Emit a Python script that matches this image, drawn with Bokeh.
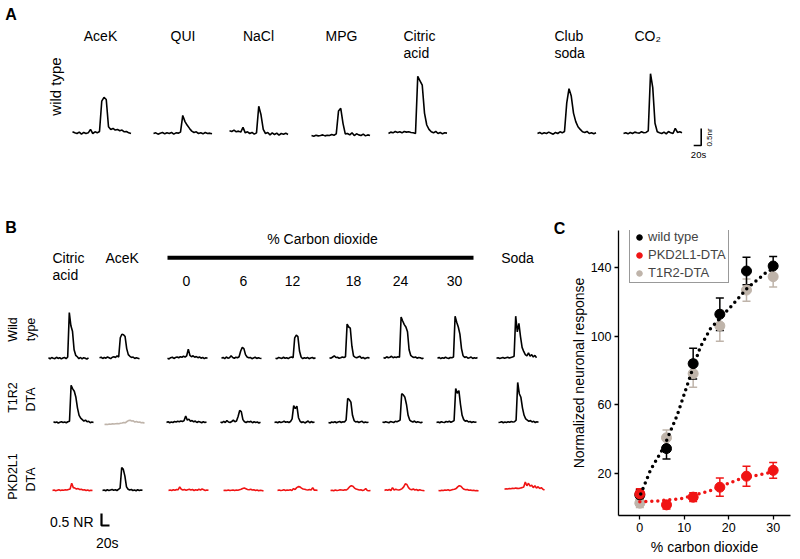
import math
from bokeh.plotting import figure
from bokeh.layouts import column, row
from bokeh.models import (Range1d, ColumnDataSource, Whisker, TeeHead, Legend,
                          LegendItem, FixedTicker)
from bokeh.embed import file_html
from bokeh.resources import INLINE
from bokeh.core.properties import value

FONT = "Liberation Sans"
RED = "#f01414"
GRAY = "#bfb4aa"

# ---------------- data: panel A (wild type, values in NR, time in s) ----------------
a_time = [0, 6, 12, 18, 24, 30, 36, 42, 48, 54, 60, 66, 72, 78, 84, 90, 96, 102,
          108, 114, 120, 126, 132, 138, 144, 150, 156]
a_labels = ["AceK", "QUI", "NaCl", "MPG", "Citric\nacid", "Club\nsoda", "CO\u2082"]
acek_a = [0.05, 0.02, 0.0, 0.04, -0.02, 0.03, 0.0, 0.02, 0.12, 0.0, 0.05, 0.02, 0.06,
          0.95, 1.06, 1.0, 0.2, 0.12, 0.15, 0.1, 0.12, 0.08, 0.1, 0.05, 0.06, 0.02, 0.0]
qui_a = [0.0, 0.02, -0.02, 0.01, 0.03, -0.01, 0.02, 0.0, 0.03, -0.02, 0.02, 0.01, 0.04,
         0.53, 0.35, 0.24, 0.15, 0.07, 0.03, 0.05, 0.0, 0.02, -0.01, 0.03, 0.0, 0.01, -0.01]
nacl_a = [0.08, 0.06, 0.1, 0.05, 0.07, 0.04, 0.18, 0.02, 0.05, 0.0, 0.03, -0.02, 0.02,
          0.8, 0.55, 0.12, 0.0, 0.03, -0.04, 0.02, -0.03, 0.01, -0.05, 0.0, -0.02, 0.01, -0.03]
mpg_a = [-0.06, -0.08, -0.05, -0.07, -0.06, -0.04, -0.07, -0.05, -0.06, -0.03, -0.05, -0.01,
         0.66, 0.74, 0.3, -0.01, 0.0, -0.04, 0.02, -0.06, -0.01, -0.04, -0.06, -0.02, -0.07, -0.04, -0.06]
citric_a = [0.0, 0.04, 0.02, 0.06, 0.03, 0.05, 0.02, 0.06, 0.04, 0.05, 0.03, 0.02, 0.0,
            1.68, 1.55, 1.42, 0.6, 0.25, 0.12, 0.05, 0.02, 0.06, 0.0, 0.03, -0.01, 0.02, 0.01]
soda_a = [0.0, 0.03, -0.01, 0.02, 0.0, 0.04, 0.01, -0.02, 0.03, 0.0, 0.05, 0.02, 0.06,
          0.9, 1.32, 1.1, 0.6, 0.35, 0.2, 0.12, 0.05, 0.03, 0.06, 0.0, 0.02, -0.01, 0.02]
co2_a = [0.0, 0.02, -0.01, 0.03, 0.0, 0.04, 0.02, 0.01, 0.05, 0.02, 0.03, 0.08, 1.76,
         1.35, 0.3, 0.05, 0.02, 0.0, 0.04, -0.01, 0.06, 0.02, 0.0, 0.15, 0.03, 0.05, 0.02]
a_traces = [acek_a, qui_a, nacl_a, mpg_a, citric_a, soda_a, co2_a]

# ---------------- data: panel B (values in NR, time in s) ----------------
b_time = [0, 4, 8, 12, 16, 20, 24, 28, 32, 36, 40, 44, 48, 52, 56, 60, 64, 68, 72, 76,
          80, 84, 88, 92, 96, 100]
b_rows = ["Wild\ntype", "T1R2\nDTA", "PKD2L1\nDTA"]
b_columns = ["Citric\nacid", "AceK", "0", "6", "12", "18", "24", "30", "Soda"]

# wild type
citric_wt = [0.02, -0.03, 0.03, 0.0, -0.02, 0.04, -0.01, 0.02, -0.03, 0.01, 0.03, -0.02, 0.05,
             1.9, 1.35, 1.12, 0.35, 0.12, 0.06, -0.02, 0.03, -0.03, 0.02, 0.0, -0.04, 0.02]
acek_wt = [0.02, 0.04, -0.01, 0.03, 0.0, 0.05, 0.02, -0.02, 0.04, 0.06, 0.03, 0.1, 0.05,
           0.85, 1.0, 0.98, 0.9, 0.4, 0.15, 0.08, 0.03, 0.05, -0.01, 0.02, 0.0, -0.02]
co2_0_wt = [0.0, -0.03, 0.02, 0.04, -0.01, 0.03, 0.05, 0.02, 0.06, 0.04, 0.08, 0.05, 0.1,
            0.38, 0.12, 0.06, 0.1, 0.04, 0.07, 0.02, 0.05, 0.0, 0.03, -0.02, 0.02, 0.0]
co2_6_wt = [0.0, 0.03, -0.02, 0.05, 0.0, 0.02, 0.1, 0.03, 0.0, 0.04, 0.02, 0.06, 0.3,
            0.45, 0.4, 0.15, 0.05, 0.02, 0.03, -0.02, 0.01, 0.04, -0.01, 0.02, 0.0, -0.01]
co2_12_wt = [0.0, -0.02, 0.03, 0.01, -0.01, 0.04, 0.0, 0.02, -0.02, 0.03, 0.05, 0.02, 0.85,
             0.96, 0.9, 0.3, 0.05, -0.02, 0.02, 0.0, 0.03, -0.02, 0.01, 0.03, -0.01, 0.02]
co2_18_wt = [0.02, 0.0, 0.05, 0.1, 0.03, 0.04, 0.0, 0.02, 0.05, 0.03, 0.06, 1.42, 1.3,
             1.25, 0.5, 0.1, 0.04, 0.02, 0.05, 0.08, 0.0, 0.03, -0.02, 0.01, 0.03, 0.0]
co2_24_wt = [0.03, 0.0, 0.06, 0.02, 0.04, 0.08, 0.02, 0.05, 0.03, 0.06, 0.04, 1.72, 1.55,
             1.4, 1.3, 1.1, 0.35, 0.12, 0.06, 0.03, 0.05, 0.0, 0.03, 0.02, -0.02, 0.01]
co2_30_wt = [0.0, 0.03, -0.02, 0.02, 0.0, 0.04, 0.01, -0.01, 0.03, 0.02, 0.05, 1.75, 1.5,
             1.3, 1.0, 0.4, 0.1, 0.03, 0.06, 0.0, 0.02, 0.05, -0.01, 0.02, 0.0, 0.03]
soda_wt = [0.0, 0.02, -0.01, 0.01, 0.03, 0.0, 0.02, 0.04, 0.01, 0.03, 0.05, 0.08, 1.75,
           1.1, 1.45, 0.9, 0.45, 0.28, 0.15, 0.1, 0.22, 0.08, 0.15, 0.05, 0.12, 0.02]
# T1R2-DTA
citric_t1 = [0.03, 0.0, 0.02, -0.02, 0.01, 0.03, 0.0, 0.02, -0.01, 0.03, 0.05, 1.55, 1.4,
             1.3, 1.05, 0.6, 0.3, 0.18, 0.12, 0.06, 0.1, 0.03, 0.05, -0.01, 0.02, 0.0]
acek_t1 = [-0.08, -0.07, -0.08, -0.06, -0.07, -0.05, -0.06, -0.05, -0.04, -0.05, -0.03, -0.02,
           0.0, -0.01, 0.04, 0.08, 0.09, 0.06, 0.07, 0.02, 0.04, 0.01, 0.02, -0.01, 0.0, -0.03]
co2_0_t1 = [0.0, 0.03, -0.01, 0.02, 0.0, 0.04, 0.02, 0.05, 0.03, 0.06, 0.04, 0.08, 0.27,
            0.1, 0.14, 0.05, 0.08, 0.03, 0.06, 0.0, 0.04, 0.02, -0.01, 0.03, 0.0, 0.02]
co2_6_t1 = [0.02, -0.01, 0.05, 0.0, 0.08, 0.02, 0.0, 0.04, 0.1, 0.03, 0.06, 0.25, 0.5,
            0.45, 0.12, 0.03, 0.0, 0.04, 0.02, 0.05, -0.01, 0.03, 0.0, 0.02, -0.02, 0.01]
co2_12_t1 = [0.0, 0.02, -0.01, 0.03, 0.0, 0.02, 0.05, 0.01, 0.03, 0.0, 0.04, 0.15, 0.7,
             0.58, 0.68, 0.2, 0.05, 0.0, 0.03, -0.02, 0.02, 0.06, -0.01, 0.04, 0.0, 0.02]
co2_18_t1 = [0.0, -0.02, 0.02, 0.0, 0.03, -0.01, 0.02, 0.04, 0.0, 0.03, 0.02, 0.1, 1.0,
             0.95, 0.85, 0.3, 0.08, 0.02, 0.04, 0.0, 0.03, 0.05, -0.01, 0.02, 0.0, 0.01]
co2_24_t1 = [0.02, 0.0, 0.03, 0.01, -0.01, 0.04, 0.02, 0.0, 0.05, 0.03, 0.06, 0.1, 1.2,
             1.15, 1.05, 0.75, 0.3, 0.1, 0.05, 0.02, 0.06, 0.0, 0.03, 0.01, -0.01, 0.02]
co2_30_t1 = [0.0, 0.02, -0.01, 0.03, 0.01, 0.0, 0.04, 0.02, 0.05, 0.01, 0.04, 0.08, 1.42,
             1.22, 1.33, 0.75, 0.3, 0.12, 0.05, 0.08, 0.02, 0.04, 0.0, 0.03, 0.01, 0.02]
soda_t1 = [0.0, 0.01, 0.03, -0.01, 0.02, 0.0, 0.03, 0.01, 0.04, 0.02, 0.03, 0.1, 1.67,
           1.2, 1.05, 0.6, 0.3, 0.15, 0.1, 0.05, 0.08, 0.02, 0.05, 0.0, 0.03, 0.01]
# PKD2L1-DTA
citric_pk = [0.0, 0.02, -0.01, 0.01, 0.03, 0.0, 0.02, 0.01, 0.03, 0.02, 0.04, 0.06, 0.3,
             0.12, 0.1, 0.06, 0.08, 0.04, 0.05, 0.02, 0.03, 0.0, 0.02, -0.01, 0.01, 0.0]
acek_pk = [0.0, 0.02, -0.01, 0.03, 0.0, 0.02, 0.04, 0.01, 0.03, 0.0, 0.05, 0.1, 0.96,
           0.88, 0.6, 0.15, 0.05, 0.02, 0.04, 0.0, 0.02, -0.01, 0.03, 0.0, 0.02, 0.01]
co2_0_pk = [0.0, 0.02, 0.0, 0.03, 0.01, 0.04, 0.03, 0.15, 0.05, 0.02, 0.04, 0.01, 0.03,
            0.05, 0.02, 0.04, 0.0, 0.03, 0.01, 0.05, 0.02, 0.06, 0.03, 0.0, 0.02, 0.01]
co2_6_pk = [0.0, 0.01, 0.0, 0.02, 0.0, 0.01, 0.02, 0.0, 0.02, 0.01, 0.03, 0.05, 0.08,
            0.1, 0.07, 0.04, 0.03, 0.05, 0.02, 0.03, 0.0, 0.02, -0.01, 0.01, 0.0, -0.02]
co2_12_pk = [0.0, 0.02, 0.0, 0.01, 0.03, 0.0, 0.02, 0.01, 0.03, 0.0, 0.08, 0.04, 0.12,
             0.16, 0.15, 0.1, 0.06, 0.05, 0.03, 0.02, 0.04, 0.02, 0.12, 0.01, 0.02, 0.0]
co2_18_pk = [0.0, 0.01, -0.01, 0.02, 0.0, 0.01, 0.03, 0.02, 0.01, 0.03, 0.02, 0.08, 0.16,
             0.2, 0.18, 0.1, 0.06, 0.04, 0.02, 0.03, 0.0, 0.02, 0.08, 0.0, -0.01, 0.0]
co2_24_pk = [0.0, 0.03, 0.01, 0.04, 0.0, 0.12, 0.02, 0.05, 0.03, 0.02, 0.04, 0.08, 0.15,
             0.28, 0.25, 0.12, 0.05, 0.03, 0.06, 0.02, 0.04, 0.0, 0.03, 0.01, 0.0, -0.01]
co2_30_pk = [0.0, -0.01, 0.01, 0.0, 0.02, 0.01, 0.03, 0.0, 0.02, 0.04, 0.05, 0.08, 0.15,
             0.2, 0.18, 0.1, 0.05, 0.03, 0.04, 0.01, 0.02, 0.0, 0.01, -0.01, 0.0, -0.02]
soda_pk = [0.05, 0.07, 0.06, 0.08, 0.07, 0.09, 0.08, 0.1, 0.09, 0.08, 0.1, 0.12, 0.15,
           0.35, 0.2, 0.3, 0.18, 0.22, 0.12, 0.2, 0.1, 0.16, 0.08, 0.12, 0.05, 0.02]

b_traces = [
    [citric_wt, acek_wt, co2_0_wt, co2_6_wt, co2_12_wt, co2_18_wt, co2_24_wt, co2_30_wt, soda_wt],
    [citric_t1, acek_t1, co2_0_t1, co2_6_t1, co2_12_t1, co2_18_t1, co2_24_t1, co2_30_t1, soda_t1],
    [citric_pk, acek_pk, co2_0_pk, co2_6_pk, co2_12_pk, co2_18_pk, co2_24_pk, co2_30_pk, soda_pk],
]

# ---------------- data: panel C ----------------
co2_pct = [0, 6, 12, 18, 24, 30]
wt_mean = [7.5, 34.5, 84.0, 112.8, 138.0, 140.9]
wt_sem = [3.0, 6.0, 9.0, 9.5, 8.0, 5.5]
pk_mean = [8.1, 1.7, 6.2, 12.0, 18.4, 21.8]
pk_sem = [3.0, 2.4, 2.6, 5.3, 5.8, 4.6]
t1_mean = [2.7, 40.8, 78.2, 106.0, 126.9, 134.7]
t1_sem = [2.5, 4.5, 8.0, 9.0, 6.5, 6.0]
wt_fit_x = [0.2, 2.4, 5.4, 8.4, 11.4, 13.6, 15.9, 20.4, 24.1, 28.6, 30.5]
wt_fit_y = [8.0, 22.0, 35.4, 53.9, 77.2, 93.7, 104.5, 117.0, 127.8, 137.5, 140.0]
pk_fit_x = [0.0, 4.0, 9.1, 12.0, 15.9, 19.0, 22.6, 27.9, 30.5]
pk_fit_y = [3.5, 4.0, 5.2, 7.2, 10.0, 13.3, 16.9, 19.8, 21.0]
c_legend = ["wild type", "PKD2L1-DTA", "T1R2-DTA"]

# ---------------- layout constants (page pixels, origin at page top-left) ----------------
A_PXS, A_PXN, A_BASE = 0.375, 34.0, 133.0      # px per s, px per NR, baseline y
B_PXS, B_PXN, B_BASE = 0.4, 24.0, 357.7
SPLIT_X = 566                                  # boundary between panel B and C figures
A_H = 183


def ax(px):
    return px / A_PXS


def ay(py):
    return (A_BASE - py) / A_PXN


def bx(px):
    return px / B_PXS


def by(py):
    return (B_BASE - py) / B_PXN


def txt(p, x, y, s, size, align="center", baseline="middle", angle=0.0,
        bold=False, color="black"):
    p.text(x=[x], y=[y], text=[s], text_font=value(FONT),
           text_font_size=value(f"{size}px"), text_align=align,
           text_baseline=baseline, angle=angle, text_color=color,
           text_font_style="bold" if bold else "normal")


def blank(width, height, xr, yr):
    p = figure(width=width, height=height, x_range=xr, y_range=yr,
               output_backend="svg", toolbar_location=None,
               x_axis_location=None, y_axis_location=None, min_border=0,
               outline_line_color=None)
    p.xgrid.visible = False
    p.ygrid.visible = False
    p.frame_align = False
    return p


# ---------------- panel A ----------------
pa = blank(800, A_H, Range1d(0, 800 / A_PXS), Range1d(ay(A_H), ay(0)))
a_start_px = [72, 153, 229, 311, 388, 537, 623]
for start, vals in zip(a_start_px, a_traces):
    x0 = ax(start)
    src = ColumnDataSource(dict(x=[x0 + t for t in a_time], y=list(vals)))
    pa.line("x", "y", source=src, line_color="black", line_width=1.6)

txt(pa, ax(10.5), ay(14), "A", 16, bold=True)
a_label_pos = [(100, "center"), (182.5, "center"), (258, "center"), (341, "center"),
               (403, "left"), (554, "left"), (634, "left")]
for (lx, al), lab in zip(a_label_pos, a_labels):
    lines = lab.split("\n")
    for k, ln in enumerate(lines):
        txt(pa, ax(lx), ay(35 + 17 * k), ln, 14, align=al)
txt(pa, ax(55), ay(86), "wild type", 15, angle=math.pi / 2)
# scale bar A
cx, cy = ax(700.7), ay(145)
pa.line([cx - 20, cx, cx], [cy, cy, cy + 0.5], line_color="black", line_width=1.6)
txt(pa, ax(698), ay(153.5), "20s", 9.5)
txt(pa, ax(709), ay(137), "0.5nr", 8, angle=math.pi / 2)

# ---------------- panel B ----------------
pb = blank(SPLIT_X, 559 - A_H, Range1d(0, SPLIT_X / B_PXS), Range1d(by(559), by(A_H)))
b_row_base_px = [357.7, 422, 490]
b_start_px = [
    [48, 99, 167, 221, 275, 329, 383, 437, 496],
    [53, 104, 166, 220, 274, 328, 382, 436, 498],
    [52, 102, 168, 223, 277, 330, 384, 438, 504],
]
b_colors = [
    ["black"] * 9,
    ["black", GRAY] + ["black"] * 7,
    [RED, "black"] + [RED] * 7,
]
for r in range(3):
    y0 = by(b_row_base_px[r])
    for c in range(9):
        x0 = bx(b_start_px[r][c])
        vals = b_traces[r][c]
        src = ColumnDataSource(dict(x=[x0 + t for t in b_time], y=[y0 + v for v in vals]))
        pb.line("x", "y", source=src, line_color=b_colors[r][c], line_width=1.6)

txt(pb, bx(10.5), by(227), "B", 16, bold=True)
txt(pb, bx(559), by(228), "C", 16, bold=True)
b_col_label_pos = [(52, 257, "left"), (105, 257, "left"), (186, 280, "center"),
                   (243, 280, "center"), (292, 280, "center"), (353, 280, "center"),
                   (400, 280, "center"), (454, 280, "center"), (517, 257, "center")]
for (lx, ly, al), lab in zip(b_col_label_pos, b_columns):
    for k, ln in enumerate(lab.split("\n")):
        txt(pb, bx(lx), by(ly + 17 * k), ln, 14, align=al)
txt(pb, bx(322), by(238), "% Carbon dioxide", 14)
pb.line([bx(167), bx(473)], [by(257.3), by(257.3)], line_color="black", line_width=4)
b_row_label_pos = [(329, 329), (397, 399), (476, 479)]
for (y1, y2), lab in zip(b_row_label_pos, b_rows):
    l1, l2 = lab.split("\n")
    txt(pb, bx(12), by(y1), l1, 12.5, angle=math.pi / 2)
    txt(pb, bx(30.5), by(y2), l2, 12.5, angle=math.pi / 2)
# scale bar B
sx, sy = bx(101), by(525)
pb.line([sx, sx, sx + 20], [sy + 0.5, sy, sy], line_color="black", line_width=2.2)
txt(pb, bx(93), by(521.5), "0.5 NR", 14, align="right")
txt(pb, bx(106.7), by(542), "20s", 14)

# ---------------- panel C ----------------
pc = figure(width=800 - SPLIT_X, height=559 - A_H, x_range=Range1d(-4.8, 33.9),
            y_range=Range1d(-4.5, 161.6), output_backend="svg",
            toolbar_location=None, min_border_left=618 - SPLIT_X, min_border_right=10,
            min_border_top=230 - A_H, min_border_bottom=559 - 515,
            outline_line_color=None)
pc.frame_align = False
pc.xgrid.visible = False
pc.ygrid.visible = False
pc.xaxis.ticker = FixedTicker(ticks=[0, 10, 20, 30])
pc.yaxis.ticker = FixedTicker(ticks=[20, 60, 100, 140])
for axis in (pc.xaxis, pc.yaxis):
    axis.minor_tick_line_color = None
    axis.major_tick_in = 0
    axis.major_tick_out = 4
    axis.axis_line_width = 1.3
    axis.major_tick_line_width = 1.3
    axis.major_label_text_font = FONT
    axis.major_label_text_font_size = "12.5px"
    axis.major_label_text_color = "black"
    axis.axis_label_text_font = FONT
    axis.axis_label_text_font_size = "14px"
    axis.axis_label_text_font_style = "normal"
    axis.axis_label_text_color = "black"
pc.xaxis.axis_label = "% carbon dioxide"
pc.yaxis.axis_label = "Normalized neuronal response"
pc.xaxis.major_label_standoff = 3
pc.xaxis.axis_label_standoff = 4
pc.yaxis.major_label_standoff = 3
pc.yaxis.axis_label_standoff = 1

renderers = {}
for name, mean, sem, col in [("t1", t1_mean, t1_sem, GRAY),
                             ("wt", wt_mean, wt_sem, "black"),
                             ("pk", pk_mean, pk_sem, RED)]:
    src = ColumnDataSource(dict(x=co2_pct, y=mean,
                                lo=[m - s for m, s in zip(mean, sem)],
                                hi=[m + s for m, s in zip(mean, sem)]))
    w = Whisker(base="x", upper="hi", lower="lo", source=src, line_color=col,
                line_width=1.5,
                upper_head=TeeHead(size=8, line_color=col, line_width=1.5),
                lower_head=TeeHead(size=8, line_color=col, line_width=1.5))
    pc.add_layout(w)
    renderers[name] = pc.scatter("x", "y", source=src, size=10, fill_color=col,
                                 line_color=col)

pc.line(pk_fit_x, pk_fit_y, line_color=RED, line_width=3.5, line_dash="0 6",
        line_cap="round")
pc.line(wt_fit_x, wt_fit_y, line_color="black", line_width=3.5, line_dash="0 6",
        line_cap="round")

legend = Legend(items=[LegendItem(label=c_legend[0], renderers=[renderers["wt"]]),
                       LegendItem(label=c_legend[1], renderers=[renderers["pk"]]),
                       LegendItem(label=c_legend[2], renderers=[renderers["t1"]])],
                location=(11, 232), border_line_color="#333333",
                border_line_width=1.5, label_text_font=FONT,
                label_text_font_size="13px", glyph_width=14, glyph_height=14,
                label_height=14, spacing=3, padding=2, margin=0, label_standoff=2)
pc.add_layout(legend)

layout = column(pa, row(pb, pc))
open("out.html", "w").write(file_html(layout, INLINE))
